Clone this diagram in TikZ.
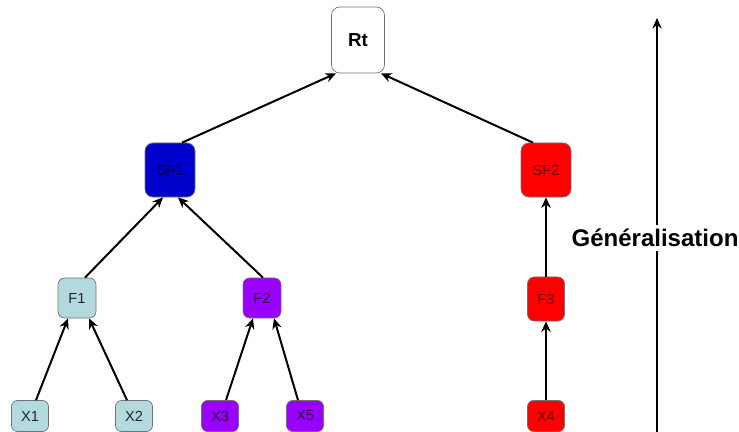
\documentclass[tikz,border=0pt]{standalone}
\usepackage{fontspec}
\setmainfont{Liberation Sans}
\usetikzlibrary{arrows.meta,calc}

\definecolor{paleblue}{RGB}{178,218,222}
\definecolor{deepblue}{RGB}{0,0,204}
\definecolor{violet}{RGB}{153,0,255}
\definecolor{brightred}{RGB}{255,0,0}

\begin{document}
\begin{tikzpicture}[
    x=0.03cm, y=-0.03cm,
    box/.style={rectangle, rounded corners=0.2cm, draw=black!55, line width=0.6pt, inner sep=0pt,
                font=\fontsize{12.5}{15}\selectfont},
    root/.style={box, fill=white, minimum width=1.59cm, minimum height=1.98cm, rounded corners=0.25cm,
                 font=\fontsize{16}{19}\selectfont\bfseries},
    sfbox/.style={box, minimum width=1.5cm, minimum height=1.62cm, rounded corners=0.24cm},
    fbox/.style={box, minimum width=1.14cm, minimum height=1.2cm, rounded corners=0.2cm},
    leaf/.style={box, minimum width=1.11cm, minimum height=0.93cm, rounded corners=0.18cm},
    grpA/.style={fill=paleblue, text=black!85},
    grpB/.style={fill=violet, text=violet!25!black},
    grpC/.style={fill=brightred, text=brightred!40!black},
    arrow/.style={-{Stealth[length=9pt,width=8pt]}, line width=1.7pt}
]
\useasboundingbox (0,0) rectangle (739,432);

\node[root] (Rt) at (358,40) {Rt};

\node[sfbox, fill=deepblue, text=deepblue!35!black] (SF1) at (170,170) {SF1};
\node[sfbox, grpC] (SF2) at (546,170) {SF2};

\node[fbox, grpA] (F1) at (77,298) {F1};
\node[fbox, grpB] (F2) at (262,298) {F2};
\node[fbox, grpC, minimum width=1.11cm, minimum height=1.32cm] (F3) at (546,299) {F3};

\node[leaf, grpA] (X1) at (30,416) {X1};
\node[leaf, grpA] (X2) at (134,416) {X2};
\node[leaf, grpB] (X3) at (220,416) {X3};
\node[leaf, grpB] (X5) at (305,416) {X5};
\node[leaf, grpC] (X4) at (546,416) {X4};

% leaves to first level
\draw[arrow] ($(X1.north)+(6,0)$) -- ($(F1.south)+(-9,0)$);
\draw[arrow] ($(X2.north)+(-7,0)$) -- ($(F1.south)+(12,0)$);
\draw[arrow] ($(X3.north)+(6,0)$) -- ($(F2.south)+(-9,0)$);
\draw[arrow] ($(X5.north)+(-7,0)$) -- ($(F2.south)+(12,0)$);
\draw[arrow] (X4) -- (F3);

% first level to second level
\draw[arrow] ($(F1.north)+(8,0)$) -- ($(SF1.south)+(-7,0)$);
\draw[arrow] ($(F2.north)+(1,0)$) -- ($(SF1.south)+(8,0)$);
\draw[arrow] (F3) -- (SF2);

% second level to root
\draw[arrow] ($(SF1.north)+(12,0)$) -- ($(Rt.south)+(-22,0)$);
\draw[arrow] ($(SF2.north)+(-13,0)$) -- ($(Rt.south)+(23,0)$);

% generalisation axis
\node[font=\fontsize{20.5}{24}\selectfont\bfseries, inner sep=3pt] (gen) at (655,238) {Généralisation};
\coordinate (gbot) at (657,432);
\coordinate (gtop) at (657,18);
\draw[line width=1.7pt] (gbot) -- (gbot |- gen.south);
\draw[arrow] (gtop |- gen.north) -- (gtop);
\end{tikzpicture}
\end{document}
